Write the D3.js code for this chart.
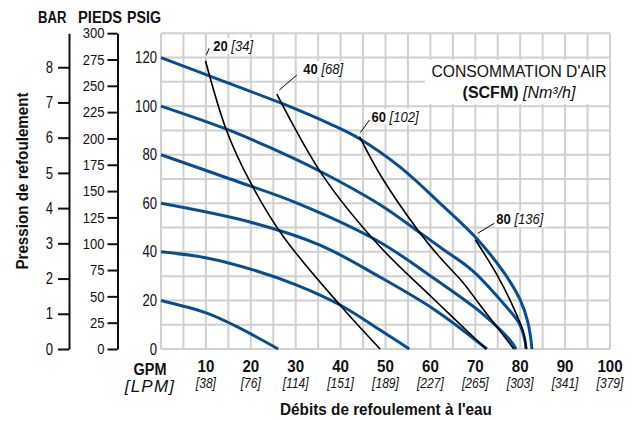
<!DOCTYPE html>
<html>
<head>
<meta charset="utf-8">
<script src="https://cdn.jsdelivr.net/npm/d3@7"></script>
<style>
  html, body { margin: 0; padding: 0; background: #fff; }
  svg { display: block; font-family: "Liberation Sans", Arial, sans-serif; }
</style>
</head>
<body>
<svg id="chart" width="635" height="421"></svg>
<script>
// Flow (GPM) tick values and their metric equivalents (LPM)
const gpmTicks = [10, 20, 30, 40, 50, 60, 70, 80, 90, 100];
const lpmLabels = ["[38]", "[76]", "[114]", "[151]", "[189]", "[227]", "[265]", "[303]", "[341]", "[379]"];
// Discharge pressure ticks
const psiTicks = [0, 20, 40, 60, 80, 100, 120];
const barTicks = [0, 1, 2, 3, 4, 5, 6, 7, 8];
const feetTicks = [0, 25, 50, 75, 100, 125, 150, 175, 200, 225, 250, 275, 300];

// Performance curves at each inlet air pressure: [GPM, PSIG]
const pressure120 = [[0,120],[13.1,110.8],[27.2,100.9],[37.6,92.7],[44.3,86.5],[53.2,75],[62.1,60.1],[70.2,45.7],[76.6,30.9],[80,20.2],[81.7,11.1],[82.4,3.7],[82.6,0]];
const pressure100 = [[0,100],[14.6,90.5],[24.2,83],[35.3,73.3],[48.7,59.5],[57.6,48],[62.5,41.5],[69.3,32.4],[76.9,17.4],[79.8,10.5],[81,4],[81.3,0]];
const pressure80  = [[0,80],[15.4,70],[30.3,60.1],[48.3,44.5],[61,28.8],[71.7,14.4],[77.7,3.7],[79.1,0]];
const pressure60  = [[0,60],[19.8,52.3],[35.4,42.8],[48.3,30.1],[61,16.1],[72.6,0]];
const pressure40  = [[0,40],[10.2,37.5],[20.5,32.6],[30.1,26.4],[39.8,18.2],[48.7,7.9],[55.3,0]];
const pressure20  = [[0,20],[10.2,14.8],[16.9,9.2],[26.1,0]];

// Air consumption curves (SCFM): [GPM, PSIG]
const air20 = [[9.9,118.7],[14.6,90],[19.8,69],[27.2,46.4],[39.8,18.2],[48.8,0]];
const air40 = [[25.8,105],[36.2,71],[48.7,42.3],[60.5,21],[72.4,0]];
const air60 = [[44.2,87.5],[49.4,70],[57.6,48],[62,38],[67.2,27.5],[71.6,16.8],[78.6,0]];
const air80 = [[70,45],[75,30],[79,15],[80.7,7],[81.4,0]];
const airScfm = ["20", "40", "60", "80"];
const airNm3h = ["[34]", "[68]", "[102]", "[136]"];

const pressureSeries = [pressure20, pressure40, pressure60, pressure80, pressure100, pressure120];
const airSeries = [air20, air40, air60, air80];

// Leader line / label offsets (px) from the top end of each air curve
const airLabelLayout = [
  { x0: 1,   y0: -6,  x1: 3.7, y1: -12.5, tx: 7.7, ty: -10 },
  { x0: 2.5, y0: -4,  x1: 20,  y1: -19,   tx: 26.5, ty: -20 },
  { x0: 1,   y0: -4,  x1: 10,  y1: -16.5, tx: 12,  ty: -15 },
  { x0: 2.3, y0: -6.4, x1: 19, y1: -16.4, tx: 21,  ty: -15.7 }
];

const svg = d3.select("#chart");
const plotLeft = 161, plotRight = 610, plotTop = 33.3, plotBottom = 349;
const PSI_MAX = 130;

const x = d3.scaleLinear().domain([0, 100]).range([plotLeft, plotRight]);
const y = d3.scaleLinear().domain([0, PSI_MAX]).range([plotBottom, plotTop]);
const feet = d3.scaleLinear().domain([0, PSI_MAX * 2.3067]).range([plotBottom, plotTop]);
const bar = d3.scaleLinear().domain([0, PSI_MAX / 14.5038]).range([plotBottom, plotTop]);

const gridColor = "#d0d0d0";
const blue = "#0b4c8e";
const ink = "#111";

// Narrow the type horizontally about each text's anchor point
function squeeze(sel, sx) {
  sel.each(function () {
    const t = d3.select(this);
    const ax = +t.attr("x") || 0, ay = +t.attr("y") || 0;
    t.attr("transform", `translate(${ax},${ay}) scale(${sx},1) translate(${-ax},${-ay})`);
  });
  return sel;
}

// Grid
const grid = svg.append("g");
grid.selectAll("line.v").data(d3.range(0, 101, 5)).join("line")
  .attr("x1", d => x(d)).attr("x2", d => x(d))
  .attr("y1", y(0)).attr("y2", y(PSI_MAX))
  .attr("stroke", gridColor).attr("stroke-width", 2);
grid.selectAll("line.h").data(d3.range(0, PSI_MAX + 1, 10)).join("line")
  .attr("x1", x(0)).attr("x2", x(100))
  .attr("y1", d => y(d)).attr("y2", d => y(d))
  .attr("stroke", gridColor).attr("stroke-width", 2);

// Legend panel
const legend = svg.append("g");
legend.append("rect")
  .attr("x", 425).attr("y", 60).attr("width", x(100) - 1 - 425).attr("height", 44)
  .attr("fill", "#fff");
squeeze(legend.append("text")
  .attr("x", 519).attr("y", 77).attr("text-anchor", "middle")
  .attr("font-size", 16).attr("fill", ink)
  .text("CONSOMMATION D'AIR"), 0.98);
const l2 = legend.append("text")
  .attr("x", 519).attr("y", 98).attr("text-anchor", "middle")
  .attr("font-size", 16).attr("fill", ink);
l2.append("tspan").attr("font-weight", "bold").text("(SCFM)");
l2.append("tspan").attr("font-style", "italic").text(" [Nm³/h]");

// PSIG tick labels
const psiAxis = svg.append("g")
  .attr("transform", `translate(${plotLeft},0)`)
  .call(d3.axisLeft(y).tickValues(psiTicks).tickSize(0).tickPadding(4));
psiAxis.select(".domain").remove();
squeeze(psiAxis.selectAll("text").attr("font-size", 16).attr("font-family", null).attr("fill", ink), 0.82);

// Feet of head axis
const feetAxis = svg.append("g")
  .attr("transform", "translate(117.5,0)")
  .call(d3.axisLeft(feet).tickValues(feetTicks).tickSize(10).tickSizeOuter(0).tickPadding(3));
feetAxis.select(".domain").attr("stroke-width", 2).attr("stroke", ink);
feetAxis.selectAll(".tick line").attr("stroke-width", 2).attr("stroke", ink);
squeeze(feetAxis.selectAll("text").attr("font-size", 14.5).attr("font-family", null).attr("fill", ink), 0.9);

// Bar axis
const barAxis = svg.append("g")
  .attr("transform", "translate(69,0)")
  .call(d3.axisLeft(bar).tickValues(barTicks).tickSize(11).tickSizeOuter(0).tickPadding(5));
barAxis.select(".domain").attr("stroke-width", 2).attr("stroke", ink);
barAxis.selectAll(".tick line").attr("stroke-width", 2).attr("stroke", ink);
squeeze(barAxis.selectAll("text").attr("font-size", 16).attr("font-family", null).attr("fill", ink), 0.82);

// Unit headers
const head = svg.append("g").attr("font-weight", "bold").attr("font-size", 16).attr("fill", ink);
squeeze(head.append("text").attr("x", 38).attr("y", 23).text("BAR"), 0.82);
squeeze(head.append("text").attr("x", 78).attr("y", 23).text("PIEDS"), 0.92);
squeeze(head.append("text").attr("x", 127).attr("y", 23).text("PSIG"), 0.89);

// X tick labels
const xl = svg.append("g").attr("text-anchor", "middle").attr("fill", ink);
squeeze(xl.selectAll("text.gpm").data(gpmTicks).join("text")
  .attr("x", d => x(d)).attr("y", 372)
  .attr("font-weight", "bold").attr("font-size", 17)
  .text(d => d), 0.89);
squeeze(xl.selectAll("text.lpm").data(lpmLabels).join("text")
  .attr("x", (d, i) => x(gpmTicks[i])).attr("y", 388)
  .attr("font-style", "italic").attr("font-size", 14)
  .text(d => d), 0.86);
squeeze(xl.append("text").attr("x", 150).attr("y", 375)
  .attr("font-weight", "bold").attr("font-size", 17).text("GPM"), 0.85);
xl.append("text").attr("x", 150).attr("y", 392)
  .attr("font-style", "italic").attr("font-size", 17).attr("letter-spacing", 1.2).text("[LPM]");

// Axis titles
squeeze(svg.append("text")
  .attr("x", 386).attr("y", 415).attr("text-anchor", "middle")
  .attr("font-weight", "bold").attr("font-size", 16).attr("fill", ink)
  .text("Débits de refoulement à l'eau"), 0.957);
svg.append("text")
  .attr("transform", "translate(27.5,181) rotate(-90) scale(0.95,1)").attr("text-anchor", "middle")
  .attr("font-weight", "bold").attr("font-size", 16).attr("fill", ink)
  .text("Pression de refoulement");

// Curves
const line = d3.line().x(d => x(d[0])).y(d => y(d[1])).curve(d3.curveCatmullRom.alpha(0.5));

svg.append("g").selectAll("path").data(pressureSeries).join("path")
  .attr("d", line).attr("fill", "none")
  .attr("stroke", blue).attr("stroke-width", 3);

svg.append("g").selectAll("path").data(airSeries).join("path")
  .attr("d", line).attr("fill", "none")
  .attr("stroke", "#000").attr("stroke-width", 1.6);

// Air consumption labels with leader lines
const labels = svg.append("g");
airSeries.forEach((s, i) => {
  const L = airLabelLayout[i];
  const px = x(s[0][0]), py = y(s[0][1]);
  const g = labels.append("g");
  const t = g.append("text")
    .attr("x", px + L.tx).attr("y", py + L.ty)
    .attr("font-size", 14.5).attr("fill", ink);
  t.append("tspan").attr("font-weight", "bold").text(airScfm[i]);
  t.append("tspan").attr("font-style", "italic").text(" " + airNm3h[i]);
  squeeze(t, 0.9);
  const bb = t.node().getBBox();
  g.insert("rect", "text")
    .attr("x", bb.x - 2).attr("y", bb.y).attr("width", bb.width + 4).attr("height", bb.height)
    .attr("transform", t.attr("transform"))
    .attr("fill", "#fff");
  g.append("line")
    .attr("x1", px + L.x0).attr("y1", py + L.y0)
    .attr("x2", px + L.x1).attr("y2", py + L.y1)
    .attr("stroke", "#000").attr("stroke-width", 1);
});
</script>
</body>
</html>
